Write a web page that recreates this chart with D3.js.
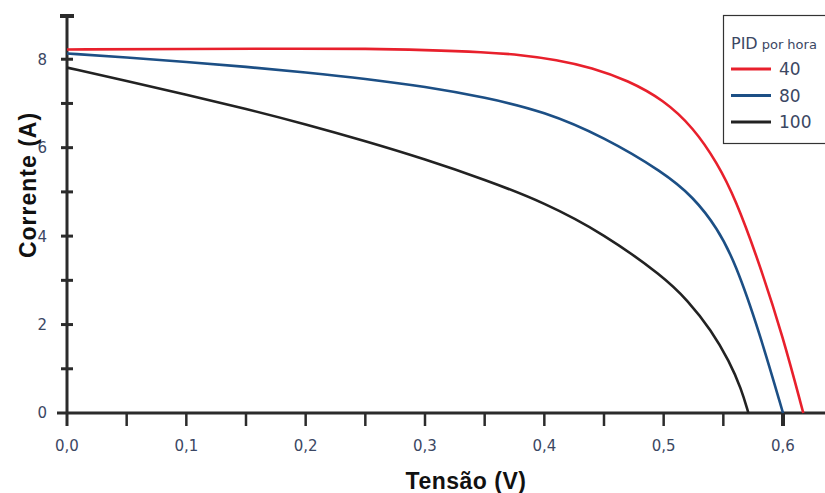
<!DOCTYPE html>
<html>
<head>
<meta charset="utf-8">
<script src="https://cdn.jsdelivr.net/npm/d3@7"></script>
<style>
  body { margin: 0; background: #fff; }
  svg { display: block; }
  .tick-label { font-family: "DejaVu Sans", sans-serif; font-size: 15px; fill: #3b4763; }
  .axis-title { font-family: "Liberation Sans", Arial, sans-serif; font-weight: bold; font-size: 23px; letter-spacing: 0.5px; fill: #111; }
</style>
</head>
<body>
<svg id="chart" width="825" height="493"></svg>
<script>
// series
var series = ["40", "80", "100"]
var colors = ["#e8202c", "#1c4f85", "#222222"]

var v40 = [0, 0.1, 0.2, 0.25, 0.3, 0.35, 0.38, 0.41, 0.44, 0.47, 0.5, 0.525, 0.545, 0.56, 0.58, 0.6, 0.617]
var i40 = [8.22, 8.23, 8.24, 8.24, 8.21, 8.16, 8.10, 7.99, 7.81, 7.52, 7.08, 6.45, 5.65, 4.85, 3.40, 1.72, 0]

var v80 = [0, 0.05, 0.1, 0.15, 0.2, 0.25, 0.3, 0.35, 0.4, 0.45, 0.5, 0.525, 0.545, 0.56, 0.58, 0.6]
var i80 = [8.13, 8.04, 7.94, 7.83, 7.70, 7.56, 7.38, 7.14, 6.82, 6.24, 5.44, 4.88, 4.18, 3.40, 1.85, 0]

var v100 = [0, 0.05, 0.1, 0.15, 0.2, 0.25, 0.3, 0.35, 0.4, 0.45, 0.5, 0.52, 0.54, 0.555, 0.565, 0.571]
var i100 = [7.81, 7.51, 7.20, 6.88, 6.53, 6.15, 5.74, 5.28, 4.76, 4.05, 3.08, 2.55, 1.87, 1.17, 0.55, 0]

var xMajor = [0, 0.1, 0.2, 0.3, 0.4, 0.5, 0.6]
var xLabels = ["0,0", "0,1", "0,2", "0,3", "0,4", "0,5", "0,6"]
var xMinor = [0.05, 0.15, 0.25, 0.35, 0.45, 0.55]
var yMajor = [0, 2, 4, 6, 8]
var yMinor = [1, 3, 5, 7]

var svg = d3.select("#chart")

var x = d3.scaleLinear().domain([0, 0.6]).range([67, 783])
var y = d3.scaleLinear().domain([0, 9]).range([413, 15])

var axisColor = "#2b2b2b"

// axis lines
svg.append("line")
  .attr("x1", x(0)).attr("x2", x(0))
  .attr("y1", y(9)).attr("y2", y(0) + 13)
  .attr("stroke", axisColor).attr("stroke-width", 3)

svg.append("line")
  .attr("x1", x(0) - 10).attr("x2", 825)
  .attr("y1", y(0)).attr("y2", y(0))
  .attr("stroke", axisColor).attr("stroke-width", 3)

// y ticks crossing the axis
svg.selectAll(".ytick")
  .data(yMajor.concat(yMinor).filter(function(d) { return d > 0 }))
  .enter().append("line")
    .attr("x1", x(0) - 6).attr("x2", x(0) + 6)
    .attr("y1", function(d) { return y(d) }).attr("y2", function(d) { return y(d) })
    .attr("stroke", axisColor).attr("stroke-width", 3)

// top cap
svg.append("line")
  .attr("x1", x(0) - 7).attr("x2", x(0) + 7)
  .attr("y1", y(9) + 1).attr("y2", y(9) + 1)
  .attr("stroke", axisColor).attr("stroke-width", 4)

svg.selectAll(".ylab")
  .data(yMajor)
  .enter().append("text")
    .attr("class", "tick-label")
    .attr("x", 47)
    .attr("y", function(d) { return y(d) })
    .attr("dy", "0.36em")
    .attr("text-anchor", "end")
    .text(function(d) { return d })

// x ticks downward
svg.selectAll(".xtick")
  .data(xMajor.concat(xMinor).filter(function(d) { return d > 0 }))
  .enter().append("line")
    .attr("x1", function(d) { return x(d) }).attr("x2", function(d) { return x(d) })
    .attr("y1", y(0)).attr("y2", y(0) + 13)
    .attr("stroke", axisColor)
    .attr("stroke-width", function(d) { return d === 0.6 ? 4 : 2.5 })

svg.selectAll(".xlab")
  .data(xMajor)
  .enter().append("text")
    .attr("class", "tick-label")
    .attr("x", function(d) { return x(d) })
    .attr("y", 451)
    .attr("text-anchor", "middle")
    .text(function(d, i) { return xLabels[i] })

// axis titles
svg.append("text")
  .attr("class", "axis-title")
  .attr("transform", "translate(36,185) rotate(-90)")
  .attr("text-anchor", "middle")
  .style("letter-spacing", "1px")
  .text("Corrente (A)")

svg.append("text")
  .attr("class", "axis-title")
  .attr("x", 466).attr("y", 489)
  .attr("text-anchor", "middle")
  .text("Tensão (V)")

// curves (smoothed through the read points)
var line = d3.line()
  .x(function(d) { return x(d[0]) })
  .y(function(d) { return y(d[1]) })
  .curve(d3.curveBasis)

var curves = [d3.zip(v40, i40), d3.zip(v80, i80), d3.zip(v100, i100)]

svg.selectAll(".curve")
  .data(curves)
  .enter().append("path")
    .attr("d", line)
    .attr("fill", "none")
    .attr("stroke", function(d, i) { return colors[i] })
    .attr("stroke-width", 2.6)

// legend
var lg = svg.append("g")
lg.append("rect")
  .attr("x", 723.5).attr("y", 15.5)
  .attr("width", 120).attr("height", 128)
  .attr("fill", "#fff").attr("stroke", "#333").attr("stroke-width", 1.2)

var title = lg.append("text")
  .attr("x", 731).attr("y", 49)
  .attr("font-family", "DejaVu Sans, sans-serif")
  .attr("fill", "#3b4763")
title.append("tspan").attr("font-size", 16).text("PID")
title.append("tspan").attr("font-size", 13).attr("dx", 4).text("por hora")

var item = lg.selectAll(".legend")
  .data(series)
  .enter().append("g")
    .attr("transform", function(d, i) { return "translate(0," + (69 + i * 26.5) + ")" })

item.append("line")
  .attr("x1", 731).attr("x2", 771)
  .attr("stroke", function(d, i) { return colors[i] })
  .attr("stroke-width", 3)

item.append("text")
  .attr("x", 779).attr("dy", "0.36em")
  .attr("font-family", "DejaVu Sans, sans-serif")
  .attr("font-size", 17)
  .attr("fill", "#3b4763")
  .text(function(d) { return d })
</script>
</body>
</html>
